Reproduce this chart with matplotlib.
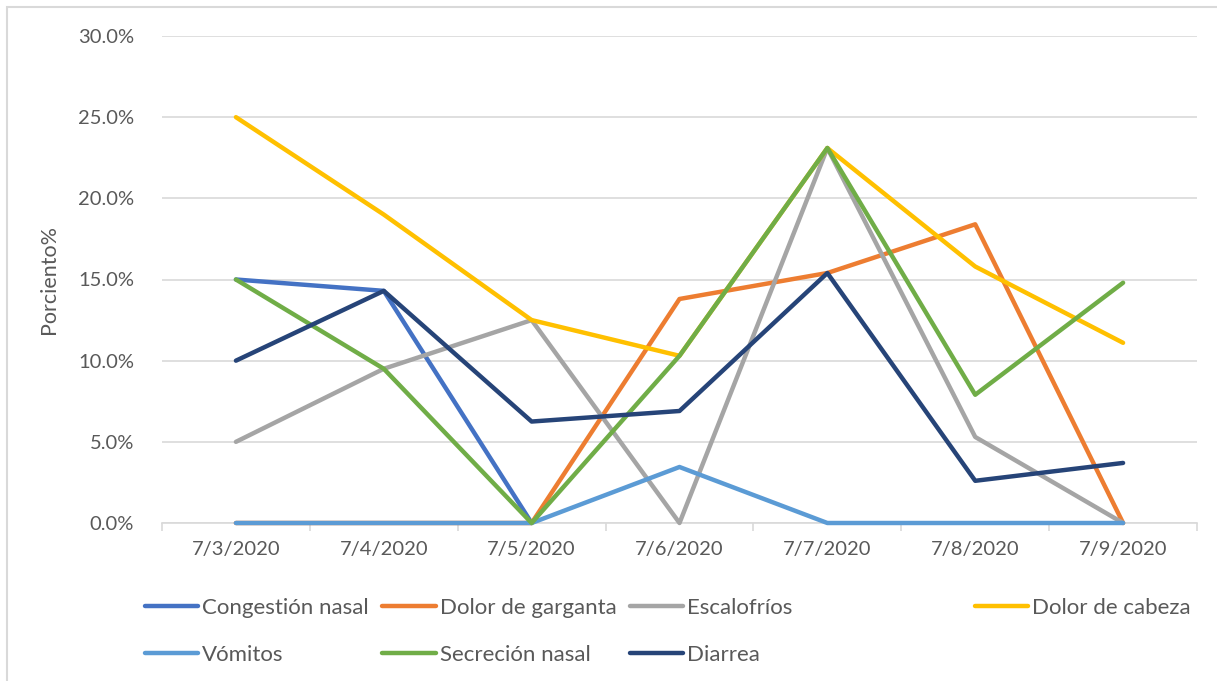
import matplotlib
matplotlib.use("Agg")
import matplotlib.pyplot as plt
import numpy as np
from matplotlib.ticker import FuncFormatter, FixedLocator
from matplotlib.patches import Rectangle

# data (percent); nan = no value plotted
dates = ["7/3/2020", "7/4/2020", "7/5/2020", "7/6/2020", "7/7/2020", "7/8/2020", "7/9/2020"]
congestion_nasal = [15.0, 14.3, 0.0, np.nan, np.nan, np.nan, np.nan]
dolor_garganta = [0.0, 0.0, 0.0, 13.8, 15.4, 18.4, 0.0]
escalofrios = [5.0, 9.5, 12.5, 0.0, 23.1, 5.3, 0.0]
dolor_cabeza = [25.0, 19.0, 12.5, 10.3, 23.1, 15.8, 11.1]
vomitos = [0.0, 0.0, 0.0, 3.45, 0.0, 0.0, 0.0]
secrecion_nasal = [15.0, 9.5, 0.0, 10.3, 23.1, 7.9, 14.8]
diarrea = [10.0, 14.3, 6.25, 6.9, 15.4, 2.6, 3.7]

series = [
    ("Congestión nasal", congestion_nasal, "#4472C4"),
    ("Dolor de garganta", dolor_garganta, "#ED7D31"),
    ("Escalofríos", escalofrios, "#A5A5A5"),
    ("Dolor de cabeza", dolor_cabeza, "#FFC000"),
    ("Vómitos", vomitos, "#5B9BD5"),
    ("Secreción nasal", secrecion_nasal, "#70AD47"),
    ("Diarrea", diarrea, "#264478"),
]

plt.rcParams["font.family"] = ["Lato", "DejaVu Sans"]
text_color = "#595959"

fig = plt.figure(figsize=(12.17, 6.81), dpi=100)
ax = fig.add_axes([162 / 1217, 1 - 523 / 681, 1035 / 1217, 487 / 681])

x = list(range(len(dates)))
handles = {}
for name, vals, color in series:
    ln, = ax.plot(x, np.array(vals) / 100, color=color, linewidth=3.2, clip_on=False,
                  zorder=3, solid_capstyle="round", solid_joinstyle="round", label=name)
    handles[name] = ln

ax.set_xlim(-0.5, len(dates) - 0.5)
ax.set_ylim(0, 0.30)
ax.set_yticks([0, 0.05, 0.10, 0.15, 0.20, 0.25, 0.30])
ax.yaxis.set_major_formatter(FuncFormatter(lambda v, p: f"{v * 100:.1f}%"))
ax.set_xticks(x)
ax.set_xticklabels(dates)
ax.xaxis.set_minor_locator(FixedLocator([i - 0.5 for i in range(len(dates) + 1)]))

ax.grid(axis="y", color="#D9D9D9", linewidth=1.2)
ax.set_axisbelow(True)
for s in ["top", "right", "left"]:
    ax.spines[s].set_visible(False)
ax.spines["bottom"].set_color("#D9D9D9")
ax.spines["bottom"].set_linewidth(1.2)
ax.spines["bottom"].set_zorder(1)

ax.tick_params(axis="y", length=0, pad=20, labelsize=14.5, labelcolor=text_color)
ax.tick_params(axis="x", which="major", length=0, pad=13, labelsize=14.5, labelcolor=text_color)
ax.tick_params(axis="x", which="minor", length=6, width=1.2, color="#D9D9D9")

ax.set_ylabel("Porciento%", fontsize=15.5, color=text_color, labelpad=14)

# legend: first three columns in one block, "Dolor de cabeza" set off to the right
leg_kw = dict(loc="upper left", frameon=False, fontsize=16, handlelength=2.4,
              handletextpad=0.18, labelspacing=1.22, borderpad=0, borderaxespad=0,
              labelcolor=text_color, bbox_transform=fig.transFigure)
order = ["Congestión nasal", "Vómitos", "Dolor de garganta", "Secreción nasal",
         "Escalofríos", "Diarrea"]
fig.legend([handles[n] for n in order], order, ncol=3, columnspacing=0.6,
           bbox_to_anchor=(145 / 1217, 1 - 598 / 681), **leg_kw)
fig.legend([handles["Dolor de cabeza"]], ["Dolor de cabeza"],
           bbox_to_anchor=(975 / 1217, 1 - 598 / 681), **leg_kw)

# outer chart frame (cut off at right and bottom)
fig.patches.append(Rectangle((7 / 1217, -0.1), 1.2, 1.1 - 7 / 681, transform=fig.transFigure,
                             fill=False, edgecolor="#D9D9D9", linewidth=1.5))

fig.savefig("out.png", dpi=100)
